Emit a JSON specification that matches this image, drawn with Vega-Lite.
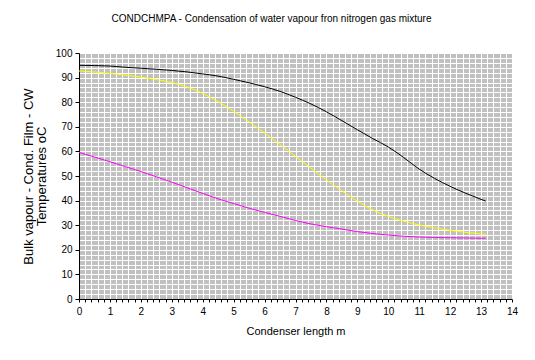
{
  "$schema": "https://vega.github.io/schema/vega-lite/v6.json",
  "width": 433,
  "height": 246,
  "autosize": {"type": "none"},
  "padding": {"left": 79, "top": 53, "right": 23, "bottom": 61},
  "background": "white",
  "title": {
    "text": "CONDCHMPA - Condensation of water vapour fron nitrogen gas mixture",
    "font": "Liberation Sans",
    "fontSize": 10,
    "fontWeight": "normal",
    "color": "black",
    "anchor": "middle",
    "frame": "group",
    "dx": -24,
    "offset": 24
  },
  "config": {
    "view": {"stroke": null, "fill": "#C0C0C0"},
    "axis": {
      "labelFont": "Liberation Sans",
      "labelFontSize": 10,
      "labelColor": "black",
      "titleFont": "Liberation Sans",
      "titleFontSize": 11,
      "titleFontWeight": "normal",
      "titleColor": "black",
      "domainColor": "black",
      "domainWidth": 1,
      "tickColor": "black",
      "gridColor": "white",
      "gridWidth": 1,
      "gridOpacity": 1
    }
  },
  "data": {
    "values": [
      {"x": 0, "y": 95.0, "s": "Bulk vapour"},
      {"x": 0.5, "y": 94.9, "s": "Bulk vapour"},
      {"x": 1, "y": 94.7, "s": "Bulk vapour"},
      {"x": 1.5, "y": 94.2, "s": "Bulk vapour"},
      {"x": 2, "y": 93.8, "s": "Bulk vapour"},
      {"x": 2.5, "y": 93.4, "s": "Bulk vapour"},
      {"x": 3, "y": 92.9, "s": "Bulk vapour"},
      {"x": 3.5, "y": 92.3, "s": "Bulk vapour"},
      {"x": 4, "y": 91.5, "s": "Bulk vapour"},
      {"x": 4.5, "y": 90.6, "s": "Bulk vapour"},
      {"x": 5, "y": 89.3, "s": "Bulk vapour"},
      {"x": 5.5, "y": 87.9, "s": "Bulk vapour"},
      {"x": 6, "y": 86.3, "s": "Bulk vapour"},
      {"x": 6.5, "y": 84.4, "s": "Bulk vapour"},
      {"x": 7, "y": 82.0, "s": "Bulk vapour"},
      {"x": 7.5, "y": 79.3, "s": "Bulk vapour"},
      {"x": 8, "y": 76.1, "s": "Bulk vapour"},
      {"x": 8.5, "y": 72.5, "s": "Bulk vapour"},
      {"x": 9, "y": 68.8, "s": "Bulk vapour"},
      {"x": 9.5, "y": 65.2, "s": "Bulk vapour"},
      {"x": 10, "y": 61.8, "s": "Bulk vapour"},
      {"x": 10.5, "y": 57.5, "s": "Bulk vapour"},
      {"x": 11, "y": 52.8, "s": "Bulk vapour"},
      {"x": 11.5, "y": 49.0, "s": "Bulk vapour"},
      {"x": 12, "y": 45.8, "s": "Bulk vapour"},
      {"x": 12.5, "y": 43.0, "s": "Bulk vapour"},
      {"x": 13, "y": 40.5, "s": "Bulk vapour"},
      {"x": 13.15, "y": 39.8, "s": "Bulk vapour"},
      {"x": 0, "y": 92.7, "s": "Cond. Film"},
      {"x": 0.5, "y": 92.3, "s": "Cond. Film"},
      {"x": 1, "y": 91.7, "s": "Cond. Film"},
      {"x": 1.5, "y": 91.0, "s": "Cond. Film"},
      {"x": 2, "y": 90.2, "s": "Cond. Film"},
      {"x": 2.5, "y": 89.2, "s": "Cond. Film"},
      {"x": 3, "y": 88.0, "s": "Cond. Film"},
      {"x": 3.5, "y": 86.2, "s": "Cond. Film"},
      {"x": 4, "y": 83.6, "s": "Cond. Film"},
      {"x": 4.5, "y": 80.2, "s": "Cond. Film"},
      {"x": 5, "y": 76.3, "s": "Cond. Film"},
      {"x": 5.5, "y": 72.0, "s": "Cond. Film"},
      {"x": 6, "y": 67.5, "s": "Cond. Film"},
      {"x": 6.5, "y": 62.8, "s": "Cond. Film"},
      {"x": 7, "y": 58.0, "s": "Cond. Film"},
      {"x": 7.5, "y": 53.2, "s": "Cond. Film"},
      {"x": 8, "y": 48.4, "s": "Cond. Film"},
      {"x": 8.5, "y": 44.0, "s": "Cond. Film"},
      {"x": 9, "y": 39.8, "s": "Cond. Film"},
      {"x": 9.5, "y": 36.2, "s": "Cond. Film"},
      {"x": 10, "y": 33.6, "s": "Cond. Film"},
      {"x": 10.5, "y": 31.6, "s": "Cond. Film"},
      {"x": 11, "y": 30.1, "s": "Cond. Film"},
      {"x": 11.5, "y": 28.9, "s": "Cond. Film"},
      {"x": 12, "y": 27.9, "s": "Cond. Film"},
      {"x": 12.5, "y": 27.1, "s": "Cond. Film"},
      {"x": 13, "y": 26.5, "s": "Cond. Film"},
      {"x": 13.15, "y": 26.3, "s": "Cond. Film"},
      {"x": 0, "y": 59.6, "s": "CW"},
      {"x": 0.5, "y": 57.7, "s": "CW"},
      {"x": 1, "y": 55.8, "s": "CW"},
      {"x": 1.5, "y": 53.8, "s": "CW"},
      {"x": 2, "y": 51.8, "s": "CW"},
      {"x": 2.5, "y": 49.7, "s": "CW"},
      {"x": 3, "y": 47.5, "s": "CW"},
      {"x": 3.5, "y": 45.2, "s": "CW"},
      {"x": 4, "y": 42.9, "s": "CW"},
      {"x": 4.5, "y": 40.7, "s": "CW"},
      {"x": 5, "y": 38.8, "s": "CW"},
      {"x": 5.5, "y": 36.9, "s": "CW"},
      {"x": 6, "y": 35.2, "s": "CW"},
      {"x": 6.5, "y": 33.6, "s": "CW"},
      {"x": 7, "y": 31.9, "s": "CW"},
      {"x": 7.5, "y": 30.5, "s": "CW"},
      {"x": 8, "y": 29.4, "s": "CW"},
      {"x": 8.5, "y": 28.4, "s": "CW"},
      {"x": 9, "y": 27.4, "s": "CW"},
      {"x": 9.5, "y": 26.6, "s": "CW"},
      {"x": 10, "y": 26.0, "s": "CW"},
      {"x": 10.5, "y": 25.5, "s": "CW"},
      {"x": 11, "y": 25.2, "s": "CW"},
      {"x": 11.5, "y": 25.0, "s": "CW"},
      {"x": 12, "y": 24.9, "s": "CW"},
      {"x": 12.5, "y": 24.8, "s": "CW"},
      {"x": 13, "y": 24.7, "s": "CW"},
      {"x": 13.15, "y": 24.7, "s": "CW"}
    ]
  },
  "mark": {"type": "line", "strokeWidth": 1, "interpolate": "monotone"},
  "encoding": {
    "x": {
      "field": "x",
      "type": "quantitative",
      "scale": {"domain": [0, 14], "nice": false, "zero": false},
      "axis": {
        "title": "Condenser length m",
        "tickCount": 70,
        "tickSize": 3,
        "labelExpr": "datum.value % 1 === 0 ? format(datum.value, 'd') : ''",
        "labelOverlap": false,
        "labelFlush": false,
        "labelBound": false,
        "labelPadding": 4,
        "titlePadding": 9
      }
    },
    "y": {
      "field": "y",
      "type": "quantitative",
      "scale": {"domain": [0, 100], "nice": false},
      "axis": {
        "title": ["Bulk vapour - Cond. Film - CW", "Temperatures oC"],
        "titleFontSize": 13,
        "titleLineHeight": 13,
        "tickCount": 50,
        "tickSize": 4,
        "tickOpacity": {"condition": {"test": "datum.value % 10 === 0", "value": 1}, "value": 0},
        "labelExpr": "datum.value % 10 === 0 ? format(datum.value, 'd') : ''",
        "labelOverlap": false,
        "labelFlush": false,
        "labelBound": false,
        "labelPadding": 3,
        "titlePadding": 7
      }
    },
    "color": {
      "field": "s",
      "type": "nominal",
      "scale": {"domain": ["Bulk vapour", "Cond. Film", "CW"], "range": ["#000000", "#FFFF00", "#FF00FF"]},
      "legend": null
    }
  }
}
